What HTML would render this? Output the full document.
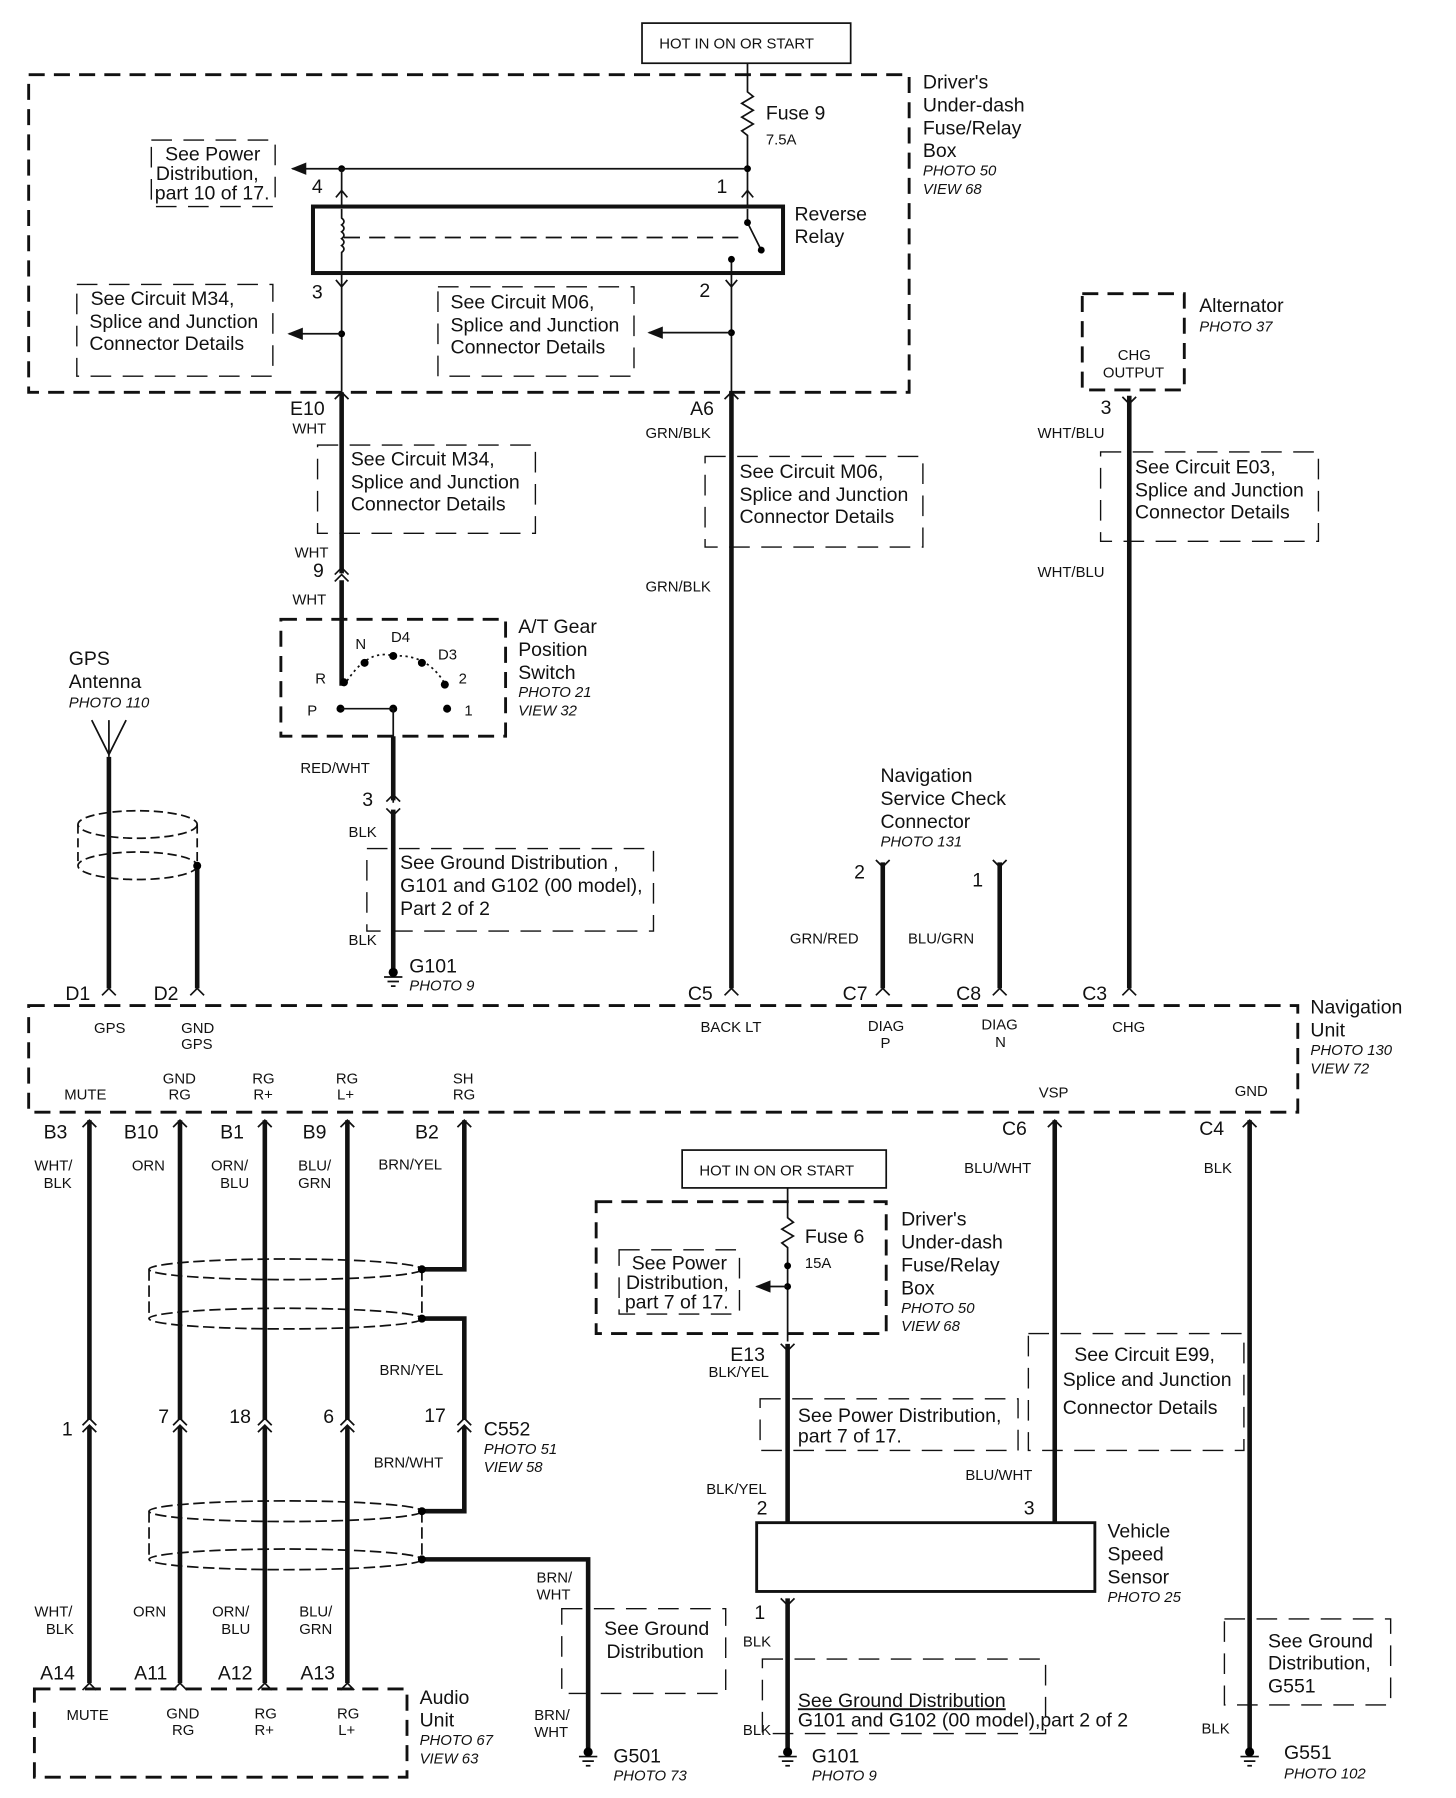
<!DOCTYPE html>
<html><head><meta charset="utf-8"><style>
html,body{margin:0;padding:0;background:#fff}
svg{display:block}
text{font-family:"Liberation Sans",sans-serif;fill:#111}
.b{font-size:17px}
.s{font-size:13px}
.i{font-size:13px;font-style:italic}
.w{stroke:#111;stroke-width:4;fill:none}
.t{stroke:#111;stroke-width:1.5;fill:none}
.d{stroke:#111;stroke-width:2.5;fill:none;stroke-dasharray:14 8}
.dt{stroke:#111;stroke-width:1.2;fill:none;stroke-dasharray:18 10}
</style></head><body>
<svg width="1456" height="1798" viewBox="0 0 1270 1568" xmlns="http://www.w3.org/2000/svg">
<defs>
<marker id="ar" viewBox="0 0 10 10" refX="9" refY="5" markerWidth="9" markerHeight="9" orient="auto"><path d="M0,1 L10,5 L0,9 z" fill="#111"/></marker>
</defs>
<!-- top hot box -->
<rect x="560" y="20" width="182" height="35" class="t"/>
<text x="575" y="42" class="s">HOT IN ON OR START</text>
<rect x="25" y="65" width="768" height="277" class="d"/>
<text x="805" y="77" class="b">Driver's</text><text x="805" y="97" class="b">Under-dash</text><text x="805" y="117" class="b">Fuse/Relay</text><text x="805" y="137" class="b">Box</text>
<text x="805" y="153" class="i">PHOTO 50</text><text x="805" y="169" class="i">VIEW 68</text>
<!-- fuse 9 -->
<path d="M652 55 V80 l5 4 -10 6 10 6 -10 6 10 6 -10 6 5 4 V180" class="t"/>
<text x="668" y="104" class="b">Fuse 9</text><text x="668" y="126" class="s">7.5A</text>
<circle cx="652" cy="147" r="3"/><circle cx="298" cy="147" r="3"/>
<path d="M652 147 H255" class="t" marker-end="url(#ar)"/>
<path d="M298 147 V180" class="t"/>
<path d="M293 172 l5 -6 5 6 M647 172 l5 -6 5 6" class="t"/>
<text x="272" y="168" class="b">4</text><text x="625" y="168" class="b">1</text>
<rect x="132" y="122" width="108" height="58" class="dt"/>
<text x="144" y="140" class="b">See Power</text><text x="136" y="157" class="b">Distribution,</text><text x="135" y="174" class="b">part 10 of 17.</text>
<!-- relay -->
<rect x="273" y="180" width="410" height="58" stroke="#111" stroke-width="3.5" fill="none"/>
<path d="M298 182 V190 q4 3 0 6 q4 3 0 6 q4 3 0 6 q4 3 0 6 q4 3 0 6 V236" class="t"/>
<path d="M300 207 H645" stroke="#111" stroke-width="1.5" stroke-dasharray="14 8"/>
<path d="M652 182 V194 L664 218 M638 238 V226" class="t"/><circle cx="652" cy="194" r="3"/><circle cx="664" cy="218" r="3"/><circle cx="638" cy="226" r="3"/>
<text x="693" y="192" class="b">Reverse</text><text x="693" y="212" class="b">Relay</text>
<path d="M298 238 V342 M638 238 V342" class="t"/>
<path d="M293 244 l5 6 5 -6 M633 244 l5 6 5 -6" class="t"/>
<text x="272" y="260" class="b">3</text><text x="610" y="259" class="b">2</text>
<circle cx="298" cy="291" r="3"/><circle cx="638" cy="290" r="3"/>
<path d="M298 291 H252" class="t" marker-end="url(#ar)"/>
<path d="M638 290 H566" class="t" marker-end="url(#ar)"/>
<rect x="67" y="248" width="171" height="80" class="dt"/>
<text x="79" y="266" class="b">See Circuit M34,</text><text x="78" y="286" class="b">Splice and Junction</text><text x="78" y="305" class="b">Connector  Details</text>
<rect x="382" y="250" width="171" height="78" class="dt"/>
<text x="393" y="269" class="b">See Circuit M06,</text><text x="393" y="289" class="b">Splice and Junction</text><text x="393" y="308" class="b">Connector  Details</text>
<!-- E10 branch -->
<path d="M298 342 V500 M298 506 V598" class="w"/>
<path d="M292 348 l6 -6 6 6 M292 501 l6 -6 6 6 M292 507 l6 -6 6 6" class="t"/>
<text x="253" y="362" class="b">E10</text><text x="255" y="378" class="s">WHT</text>
<rect x="277" y="388" width="190" height="77" class="dt"/>
<text x="306" y="406" class="b">See Circuit M34,</text><text x="306" y="426" class="b">Splice and Junction</text><text x="306" y="445" class="b">Connector  Details</text>
<text x="257" y="486" class="s">WHT</text><text x="273" y="503" class="b">9</text><text x="255" y="527" class="s">WHT</text>
<rect x="245" y="540" width="196" height="102" class="d"/>
<text x="452" y="552" class="b">A/T Gear</text><text x="452" y="572" class="b">Position</text><text x="452" y="592" class="b">Switch</text>
<text x="452" y="608" class="i">PHOTO 21</text><text x="452" y="624" class="i">VIEW 32</text>
<path d="M300 598 Q320 565 343 572 Q375 570 390 600" class="t" stroke-dasharray="2 3"/>
<circle cx="300" cy="595" r="3.5"/><circle cx="318" cy="578" r="3.5"/><circle cx="343" cy="572" r="3.5"/><circle cx="368" cy="578" r="3.5"/><circle cx="388" cy="597" r="3.5"/><circle cx="297" cy="618" r="3.5"/><circle cx="343" cy="618" r="3.5"/><circle cx="390" cy="618" r="3.5"/>
<path d="M297 618 H343 V700" class="t"/>
<text x="310" y="566" class="s">N</text><text x="341" y="560" class="s">D4</text><text x="382" y="575" class="s">D3</text><text x="400" y="596" class="s">2</text><text x="275" y="596" class="s">R</text><text x="268" y="624" class="s">P</text><text x="405" y="624" class="s">1</text>
<path d="M343 642 V698 M343 706 V850" class="w"/>
<path d="M337 699 l6 -6 6 6 M337 705 l6 6 6 -6" class="t"/>
<text x="262" y="674" class="s">RED/WHT</text><text x="316" y="703" class="b">3</text><text x="304" y="730" class="s">BLK</text>
<rect x="320" y="740" width="250" height="72" class="dt"/>
<text x="349" y="758" class="b">See Ground Distribution ,</text><text x="349" y="778" class="b">G101 and G102 (00 model),</text><text x="349" y="798" class="b">Part 2 of 2</text>
<text x="304" y="824" class="s">BLK</text>
<path d="M335 852 h16 M338 856 h10 M341 860 h4" class="t"/><circle cx="343" cy="848" r="4"/>
<text x="357" y="848" class="b">G101</text><text x="357" y="864" class="i">PHOTO 9</text>
<!-- GPS -->
<text x="60" y="580" class="b">GPS</text><text x="60" y="600" class="b">Antenna</text><text x="60" y="617" class="i">PHOTO 110</text>
<path d="M80 628 L95 658 L110 628 M95 628 V660" class="t"/>
<path d="M95 660 V862 M172 752 V862" class="w"/>
<ellipse cx="120" cy="719" rx="52" ry="12" class="t" stroke-dasharray="8 4"/>
<ellipse cx="120" cy="755" rx="52" ry="12" class="t" stroke-dasharray="8 4"/>
<path d="M68 719 V755 M172 719 V755" class="t" stroke-dasharray="8 4"/>
<circle cx="172" cy="755" r="3.5"/>
<path d="M89 868 l6 -6 6 6 M166 868 l6 -6 6 6" class="t"/>
<text x="57" y="872" class="b">D1</text><text x="134" y="872" class="b">D2</text>
<!-- A6 -->
<path d="M638 342 V862" class="w"/>
<path d="M632 348 l6 -6 6 6 M632 868 l6 -6 6 6" class="t"/>
<text x="602" y="362" class="b">A6</text><text x="563" y="382" class="s">GRN/BLK</text>
<rect x="615" y="398" width="190" height="79" class="dt"/>
<text x="645" y="417" class="b">See Circuit M06,</text><text x="645" y="437" class="b">Splice and Junction</text><text x="645" y="456" class="b">Connector  Details</text>
<text x="563" y="516" class="s">GRN/BLK</text>
<text x="600" y="872" class="b">C5</text>
<!-- Alternator -->
<rect x="944" y="256" width="89" height="84" class="d"/>
<text x="975" y="314" class="s">CHG</text><text x="962" y="329" class="s">OUTPUT</text>
<text x="1046" y="272" class="b">Alternator</text><text x="1046" y="289" class="i">PHOTO 37</text>
<path d="M985 345 V862" class="w"/>
<path d="M979 346 l6 6 6 -6 M979 868 l6 -6 6 6" class="t"/>
<text x="960" y="361" class="b">3</text><text x="905" y="382" class="s">WHT/BLU</text>
<rect x="960" y="394" width="190" height="78" class="dt"/>
<text x="990" y="413" class="b">See Circuit E03,</text><text x="990" y="433" class="b">Splice and Junction</text><text x="990" y="452" class="b">Connector  Details</text>
<text x="905" y="503" class="s">WHT/BLU</text>
<text x="944" y="872" class="b">C3</text>
<!-- nav service -->
<text x="768" y="682" class="b">Navigation</text><text x="768" y="702" class="b">Service Check</text><text x="768" y="722" class="b">Connector</text><text x="768" y="738" class="i">PHOTO 131</text>
<path d="M770 752 V862 M872 752 V862" class="w"/>
<path d="M764 750 l6 6 6 -6 M866 750 l6 6 6 -6 M764 868 l6 -6 6 6 M866 868 l6 -6 6 6" class="t"/>
<text x="745" y="766" class="b">2</text><text x="848" y="773" class="b">1</text>
<text x="689" y="823" class="s">GRN/RED</text><text x="792" y="823" class="s">BLU/GRN</text>
<text x="735" y="872" class="b">C7</text><text x="834" y="872" class="b">C8</text>
<!-- nav unit -->
<rect x="25" y="877" width="1107" height="93" class="d"/>
<text x="1143" y="884" class="b">Navigation</text><text x="1143" y="904" class="b">Unit</text><text x="1143" y="920" class="i">PHOTO 130</text><text x="1143" y="936" class="i">VIEW 72</text>
<g class="s">
<text x="82" y="901">GPS</text><text x="158" y="901">GND</text><text x="158" y="915">GPS</text>
<text x="611" y="900">BACK LT</text><text x="757" y="899">DIAG</text><text x="768" y="914">P</text><text x="856" y="898">DIAG</text><text x="868" y="913">N</text><text x="970" y="900">CHG</text>
<text x="56" y="959">MUTE</text><text x="142" y="945">GND</text><text x="147" y="959">RG</text><text x="220" y="945">RG</text><text x="221" y="959">R+</text>
<text x="293" y="945">RG</text><text x="294" y="959">L+</text><text x="395" y="945">SH</text><text x="395" y="959">RG</text>
<text x="906" y="957">VSP</text><text x="1077" y="956">GND</text>
</g>
<!-- lower left -->
<g class="b"><text x="38" y="993">B3</text><text x="108" y="993">B10</text><text x="192" y="993">B1</text><text x="264" y="993">B9</text><text x="362" y="993">B2</text></g>
<path d="M78 977 V1238 M78 1244 V1468 M157 977 V1238 M157 1244 V1468 M231 977 V1238 M231 1244 V1468 M303 977 V1238 M303 1244 V1468 M405 977 V1107 H368 M368 1150 H405 V1238 M405 1244 V1318 H368 M368 1360 H513 V1530" class="w"/>
<g class="t"><path d="M72 983 l6 -6 6 6 M151 983 l6 -6 6 6 M225 983 l6 -6 6 6 M297 983 l6 -6 6 6 M399 983 l6 -6 6 6"/>
<path d="M72 1243 l6 -6 6 6 M151 1243 l6 -6 6 6 M225 1243 l6 -6 6 6 M297 1243 l6 -6 6 6 M399 1243 l6 -6 6 6"/>
<path d="M72 1249 l6 -6 6 6 M151 1249 l6 -6 6 6 M225 1249 l6 -6 6 6 M297 1249 l6 -6 6 6 M399 1249 l6 -6 6 6"/>
<path d="M72 1474 l6 -6 6 6 M151 1474 l6 -6 6 6 M225 1474 l6 -6 6 6 M297 1474 l6 -6 6 6"/></g>
<g class="s"><text x="30" y="1021">WHT/</text><text x="38" y="1036">BLK</text><text x="115" y="1021">ORN</text><text x="184" y="1021">ORN/</text><text x="192" y="1036">BLU</text>
<text x="260" y="1021">BLU/</text><text x="260" y="1036">GRN</text><text x="330" y="1020">BRN/YEL</text>
<text x="331" y="1199">BRN/YEL</text><text x="326" y="1280">BRN/WHT</text>
<text x="30" y="1410">WHT/</text><text x="40" y="1425">BLK</text><text x="116" y="1410">ORN</text><text x="185" y="1410">ORN/</text><text x="193" y="1425">BLU</text><text x="261" y="1410">BLU/</text><text x="261" y="1425">GRN</text>
<text x="468" y="1380">BRN/</text><text x="468" y="1395">WHT</text><text x="466" y="1500">BRN/</text><text x="466" y="1515">WHT</text></g>
<g stroke-dasharray="10 4" class="t">
<ellipse cx="249" cy="1107" rx="119" ry="9"/><ellipse cx="249" cy="1150" rx="119" ry="9"/><path d="M130 1107 V1150 M368 1107 V1150"/>
<ellipse cx="249" cy="1318" rx="119" ry="9"/><ellipse cx="249" cy="1360" rx="119" ry="9"/><path d="M130 1318 V1360 M368 1318 V1360"/></g>
<circle cx="368" cy="1107" r="3.5"/><circle cx="368" cy="1150" r="3.5"/><circle cx="368" cy="1318" r="3.5"/><circle cx="368" cy="1360" r="3.5"/>
<g class="b"><text x="54" y="1252">1</text><text x="138" y="1241">7</text><text x="200" y="1241">18</text><text x="282" y="1241">6</text><text x="370" y="1240">17</text></g>
<text x="422" y="1252" class="b">C552</text><text x="422" y="1268" class="i">PHOTO 51</text><text x="422" y="1284" class="i">VIEW 58</text>
<rect x="490" y="1403" width="143" height="74" class="dt"/>
<text x="527" y="1426" class="b">See Ground</text><text x="529" y="1446" class="b">Distribution</text>
<path d="M505 1532 h16 M508 1536 h10 M511 1540 h4" class="t"/><circle cx="513" cy="1528" r="4"/>
<text x="535" y="1537" class="b">G501</text><text x="535" y="1553" class="i">PHOTO 73</text>
<g class="b"><text x="35" y="1465">A14</text><text x="117" y="1465">A11</text><text x="190" y="1465">A12</text><text x="262" y="1465">A13</text></g>
<rect x="30" y="1473" width="325" height="77" class="d"/>
<g class="s"><text x="58" y="1500">MUTE</text><text x="145" y="1499">GND</text><text x="150" y="1513">RG</text><text x="222" y="1499">RG</text><text x="222" y="1513">R+</text><text x="294" y="1499">RG</text><text x="295" y="1513">L+</text></g>
<text x="366" y="1486" class="b">Audio</text><text x="366" y="1506" class="b">Unit</text><text x="366" y="1522" class="i">PHOTO 67</text><text x="366" y="1538" class="i">VIEW 63</text>
<!-- lower middle -->
<rect x="595" y="1003" width="178" height="33" class="t"/>
<text x="610" y="1025" class="s">HOT IN ON OR START</text>
<rect x="520" y="1048" width="253" height="115" class="d"/>
<path d="M687 1036 V1062 l5 4 -10 6 10 6 -10 6 5 4 V1170" class="t"/>
<circle cx="687" cy="1104" r="3"/><circle cx="687" cy="1122" r="3"/>
<path d="M687 1122 H660" class="t" marker-end="url(#ar)"/>
<text x="702" y="1084" class="b">Fuse 6</text><text x="702" y="1106" class="s">15A</text>
<rect x="540" y="1090" width="105" height="56" class="dt"/>
<text x="551" y="1107" class="b">See Power</text><text x="546" y="1124" class="b">Distribution,</text><text x="545" y="1141" class="b">part 7 of 17.</text>
<text x="786" y="1069" class="b">Driver's</text><text x="786" y="1089" class="b">Under-dash</text><text x="786" y="1109" class="b">Fuse/Relay</text><text x="786" y="1129" class="b">Box</text><text x="786" y="1145" class="i">PHOTO 50</text><text x="786" y="1161" class="i">VIEW 68</text>
<path d="M687 1172 V1328" class="w"/><path d="M681 1172 l6 6 6 -6" class="t"/>
<text x="637" y="1187" class="b">E13</text><text x="618" y="1201" class="s">BLK/YEL</text>
<rect x="663" y="1220" width="225" height="45" class="dt"/>
<text x="696" y="1240" class="b">See Power Distribution,</text><text x="696" y="1258" class="b">part 7 of 17.</text>
<text x="616" y="1303" class="s">BLK/YEL</text><text x="660" y="1321" class="b">2</text><text x="893" y="1321" class="b">3</text>
<rect x="660" y="1328" width="295" height="60" stroke="#111" stroke-width="2.5" fill="none"/>
<text x="966" y="1341" class="b">Vehicle</text><text x="966" y="1361" class="b">Speed</text><text x="966" y="1381" class="b">Sensor</text><text x="966" y="1397" class="i">PHOTO 25</text>
<path d="M687 1394 V1528" class="w"/><path d="M681 1394 l6 6 6 -6" class="t"/>
<text x="658" y="1412" class="b">1</text><text x="648" y="1436" class="s">BLK</text><text x="648" y="1513" class="s">BLK</text>
<rect x="665" y="1447" width="247" height="65" class="dt"/>
<text x="696" y="1489" class="b" text-decoration="underline">See Ground Distribution</text><text x="696" y="1506" class="b">G101 and G102 (00 model),part 2 of  2</text>
<path d="M679 1532 h16 M682 1536 h10 M685 1540 h4" class="t"/><circle cx="687" cy="1528" r="4"/>
<text x="708" y="1537" class="b">G101</text><text x="708" y="1553" class="i">PHOTO 9</text>
<!-- C6 -->
<text x="874" y="990" class="b">C6</text><text x="1046" y="990" class="b">C4</text>
<path d="M920 977 V1328 M1090 977 V1528" class="w"/>
<path d="M914 983 l6 -6 6 6 M1084 983 l6 -6 6 6" class="t"/>
<text x="841" y="1023" class="s">BLU/WHT</text><text x="1050" y="1023" class="s">BLK</text>
<rect x="897" y="1163" width="188" height="102" class="dt"/>
<text x="937" y="1187" class="b">See Circuit E99,</text><text x="927" y="1209" class="b">Splice and Junction</text><text x="927" y="1233" class="b">Connector  Details</text>
<text x="842" y="1291" class="s">BLU/WHT</text>
<rect x="1068" y="1412" width="145" height="75" class="dt"/>
<text x="1106" y="1437" class="b">See Ground</text><text x="1106" y="1456" class="b">Distribution,</text><text x="1106" y="1476" class="b">G551</text>
<text x="1048" y="1512" class="s">BLK</text>
<path d="M1082 1532 h16 M1085 1536 h10 M1088 1540 h4" class="t"/><circle cx="1090" cy="1528" r="4"/>
<text x="1120" y="1534" class="b">G551</text><text x="1120" y="1551" class="i">PHOTO 102</text>
</svg>
</body></html>
